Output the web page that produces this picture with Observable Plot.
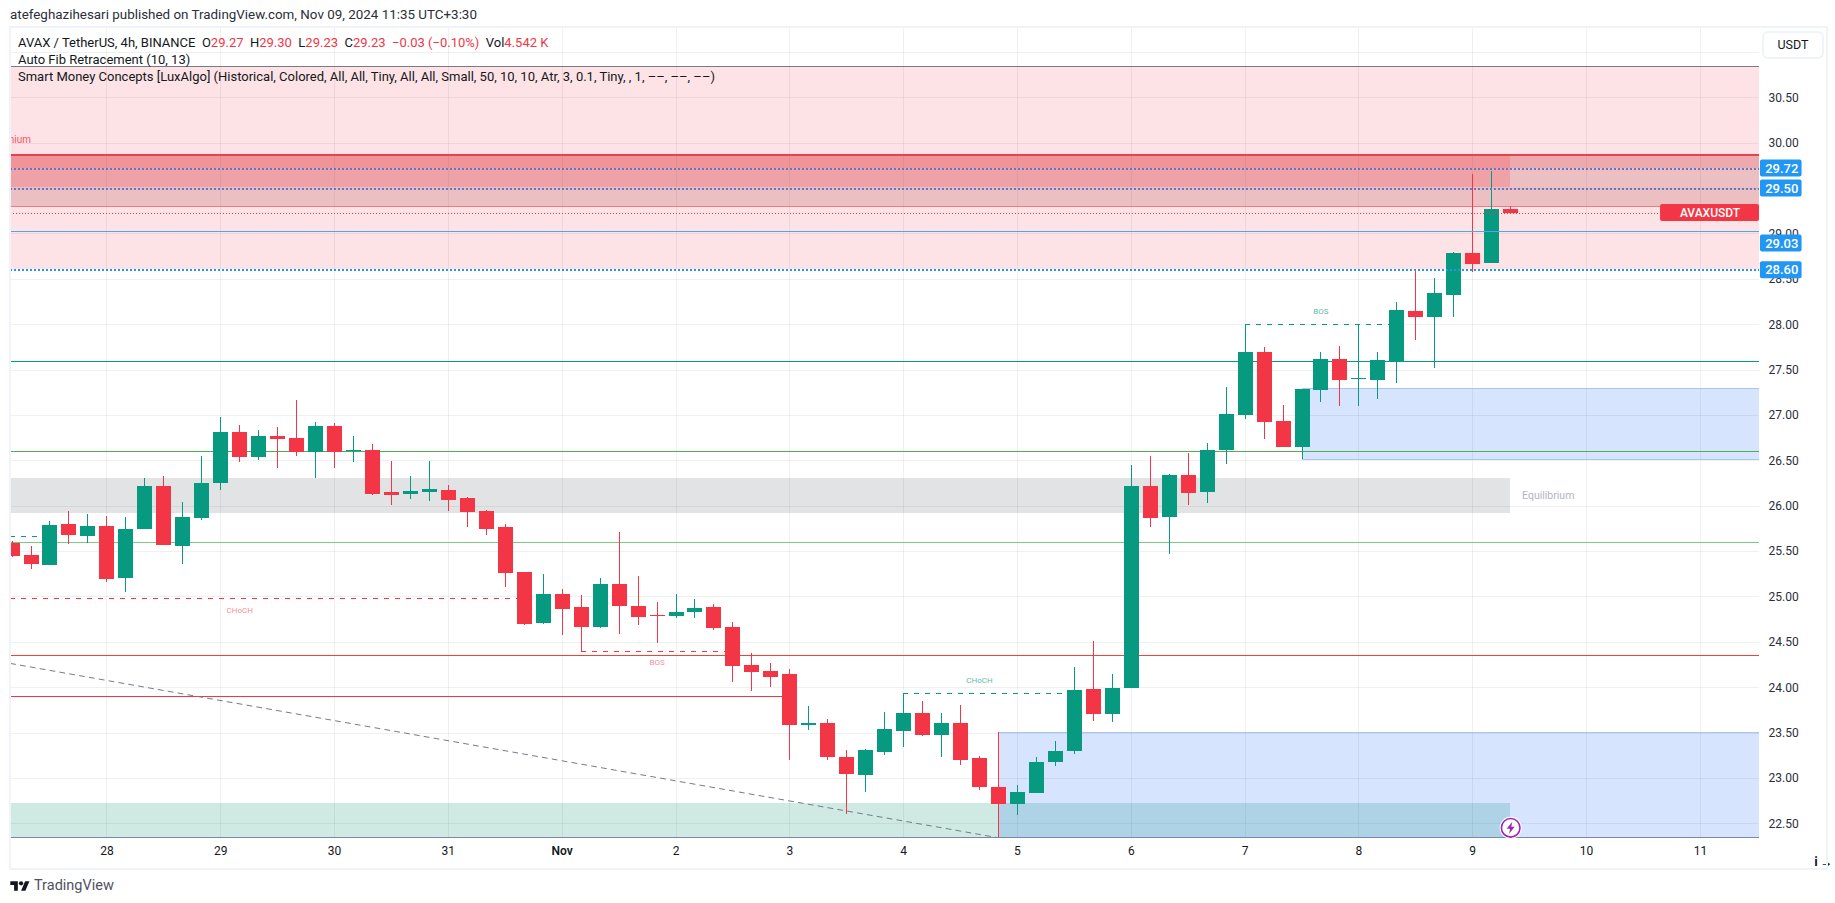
<!DOCTYPE html>
<html><head><meta charset="utf-8">
<style>
html,body{margin:0;padding:0;background:#fff;width:1835px;height:903px;overflow:hidden;font-family:Roboto,sans-serif;color:#131722}
#hdr{height:27px;position:relative}
#hdr span{position:absolute;left:10px;top:7px;font-size:13.4px;line-height:16px;color:#2a2e39;white-space:nowrap}
#frame{position:absolute;left:9px;top:26px;width:1815px;height:840px;border:2px solid #F0F3FA;pointer-events:none;z-index:3}
.lg{position:absolute;left:18px;font-size:13px;line-height:17px;white-space:nowrap;color:#131722;z-index:4}
.lg b{font-weight:400;color:#F23645}
#usdt{position:absolute;left:1762px;top:31px;width:58px;height:24px;border:2px solid #F0F3FA;border-radius:6px;font-size:12.5px;line-height:24px;text-align:center;z-index:4;background:#fff}
#logo{position:absolute;left:10px;top:878px;display:flex;align-items:center;gap:4px;font-size:14.5px;line-height:16px;color:#50535e}
#chart{position:relative}
</style>
<script src="https://cdn.jsdelivr.net/npm/d3@7"></script>
<script src="https://cdn.jsdelivr.net/npm/@observablehq/plot@0.6"></script>
</head><body>
<div id="hdr"><span>atefeghazihesari published on TradingView.com, Nov 09, 2024 11:35 UTC+3:30</span></div>
<div id="chart"></div>
<div id="frame"></div>
<div class="lg" style="top:34px">AVAX / TetherUS, 4h, BINANCE&nbsp; O<b>29.27</b>&nbsp; H<b>29.30</b>&nbsp; L<b>29.23</b>&nbsp; C<b>29.23</b>&nbsp; <b>−0.03 (−0.10%)</b>&nbsp; Vol<b>4.542 K</b></div>
<div class="lg" style="top:51px">Auto Fib Retracement (10, 13)</div>
<div class="lg" style="top:68px">Smart Money Concepts [LuxAlgo] (Historical, Colored, All, All, Tiny, All, All, Small, 50, 10, 10, Atr, 3, 0.1, Tiny, , 1, ––, ––, ––)</div>
<div id="usdt">USDT</div>
<div id="logo"><svg width="20" height="14" viewBox="0 0 36 26"><path fill="#131722" d="M14 22H7V11H0V4h14v18zM28 22h-8l7.5-18h8L28 22z"/><circle fill="#131722" cx="20" cy="8" r="4"/></svg><span>TradingView</span></div>
<script>
// ---- candle values (index 0 = 28 Oct 00:00, 6 bars a day) ----
const firstIndex = -5;
const opens  = [25.59,25.46,25.35,25.80,25.67,25.78,25.20,25.74,26.22,25.56,25.87,26.25,26.81,26.54,26.77,26.75,26.59,26.88,26.60,26.61,26.15,26.13,26.15,26.17,26.09,25.94,25.76,25.27,24.71,25.03,24.88,24.66,25.14,24.90,24.80,24.79,24.83,24.88,24.66,24.25,24.18,24.14,23.58,23.61,23.23,23.03,23.29,23.52,23.72,23.47,23.61,23.22,22.90,22.71,22.83,23.18,23.30,23.98,23.71,23.99,26.22,25.88,26.34,26.15,26.61,27.00,27.69,26.93,26.65,27.28,27.62,27.40,27.39,27.58,28.15,28.08,28.32,28.78,28.67,29.27];
const highs  = [25.61,25.56,25.83,25.94,25.91,25.89,25.88,26.30,26.33,26.04,26.55,26.98,26.89,26.83,26.87,27.17,26.92,26.91,26.77,26.68,26.49,26.33,26.49,26.23,26.10,25.95,25.80,25.27,25.25,25.08,25.02,25.20,25.71,25.22,24.94,25.03,24.97,24.92,24.72,24.38,24.27,24.20,23.79,23.65,23.31,23.32,23.73,23.94,23.85,23.72,23.80,23.24,23.51,22.92,23.23,23.41,24.22,24.51,24.14,26.45,26.55,26.35,26.58,26.69,27.31,28.00,27.75,27.11,27.29,27.69,27.76,28.00,27.69,28.25,28.60,28.51,28.80,29.66,29.69,29.30];
const lows   = [25.44,25.30,25.35,25.58,25.59,25.16,25.05,25.74,25.57,25.36,25.84,26.17,26.48,26.50,26.41,26.55,26.31,26.41,26.48,26.12,26.01,26.07,26.05,25.94,25.77,25.68,25.10,24.69,24.70,24.57,24.40,24.65,24.59,24.69,24.49,24.76,24.76,24.63,24.06,23.96,24.00,23.20,23.53,23.20,22.60,22.85,23.25,23.34,23.46,23.23,23.14,22.87,22.35,22.59,22.83,23.13,23.26,23.63,23.62,23.99,25.77,25.47,26.01,26.03,26.46,26.96,26.74,26.65,26.52,27.14,27.10,27.10,27.18,27.35,27.83,27.52,28.08,28.58,28.67,29.23];
const closes = [25.45,25.36,25.79,25.68,25.78,25.19,25.74,26.22,25.57,25.88,26.25,26.81,26.54,26.77,26.74,26.59,26.88,26.59,26.61,26.13,26.12,26.16,26.18,26.06,25.93,25.74,25.26,24.70,25.03,24.86,24.66,25.14,24.90,24.77,24.79,24.83,24.87,24.65,24.23,24.17,24.11,23.58,23.61,23.23,23.04,23.31,23.54,23.72,23.47,23.61,23.20,22.90,22.71,22.85,23.18,23.30,23.97,23.71,23.99,26.22,25.86,26.34,26.14,26.61,27.01,27.69,26.92,26.65,27.29,27.62,27.38,27.41,27.61,28.16,28.08,28.34,28.79,28.66,29.27,29.23];

// ---- axis values ----
const dayBars   = [0,6,12,18,24,30,36,42,48,54,60,66,72,78,84];
const dayLabels = ["28","29","30","31","Nov","2","3","4","5","6","7","8","9","10","11"];
const priceTicks = [22.5,23,23.5,24,24.5,25,25.5,26,26.5,27,27.5,28,28.5,29,29.5,30,30.5];
const gridPrices = [...priceTicks,31];

// ---- pane geometry, expressed in axis values ----
const xMin = -5.082, xMax = 87.116, yMin = 22.346, yMax = 31.264;
const lastBar = 74;           // last candle; zones that stop at price end here
const badgeEnd = 89.36;       // right end of the price badges (in the margin)

// ---- levels ----
const premiumTop = 30.845, premiumBottom = 28.605;
const supplyTop = 29.87, supplyBottom = 29.30, supplyInner = 29.51;
const fibA = 29.72, fibB = 29.50, fibC = 29.03, fibD = 28.60, lastPrice = 29.23;
const tealLevel = 27.60, greenLevel = 26.60, lightGreenLevel = 25.60, redLevel = 24.35;
const redShort = {p:23.90, to:36};
const eqTop = 26.305, eqBottom = 25.92;
const tealZoneTop = 22.724, paneFloor = 22.35;
const blueLow = {from:47, top:23.506, bottom:22.35};
const blueHigh = {from:63, top:27.294, bottom:26.519};
const trend = [{i:-5.08,p:24.267},{i:47,p:22.346}];
const dashed = [
  {from:-5.08,to:-3.4,p:25.67,c:"#089981"},
  {from:-5.08,to:22,p:24.98,c:"#F23645"},
  {from:25,to:33,p:24.395,c:"#F23645"},
  {from:42,to:51,p:23.936,c:"#089981"},
  {from:60,to:68,p:28.0,c:"#089981"}
];
const structLabels = [
  {t:"CHoCH",i:7,p:24.98,dy:12,c:"#F23645"},
  {t:"BOS",i:29,p:24.395,dy:11,c:"#F23645"},
  {t:"CHoCH",i:46,p:23.936,dy:-13,c:"#089981"},
  {t:"BOS",i:64,p:28.0,dy:-13,c:"#089981"}
];
const fmt = d3.format(".2f");
const pxPerUnit = 90.75;
const badgeHalf = 8.5/pxPerUnit;

const candles = opens.map((o,k)=>({i:firstIndex+k,o,h:highs[k],l:lows[k],c:closes[k]}));
const up = candles.filter(d=>d.c>=d.o), down = candles.filter(d=>d.c<d.o);
const UP="#089981", DOWN="#F23645";

const band=(i1,i2,p1,p2,fill,fillOpacity=1)=>Plot.rect([{i1,i2,p1,p2}],{x1:d=>d.i1,x2:d=>d.i2,y1:d=>d.p1,y2:d=>d.p2,fill,fillOpacity,clip:true,shapeRendering:"crispEdges"});
const level=(p,i1,i2,stroke,opts={})=>Plot.ruleY([{p,i1,i2}],{y:d=>d.p,x1:d=>d.i1,x2:d=>d.i2,stroke,strokeWidth:1,shapeRendering:"crispEdges",...opts});
const badge=(p,dy,label)=>[
  Plot.rect([{p}],{x1:()=>xMax+0.05,x2:()=>badgeEnd,y1:d=>d.p-badgeHalf,y2:d=>d.p+badgeHalf,dy,fill:"#2196F3",rx:2}),
  Plot.text([{p}],{x:()=>(xMax+badgeEnd)/2+0.05,y:d=>d.p,dy,text:()=>label,fill:"#fff",fontSize:13,fontWeight:500})
];

const plot = Plot.plot({
  width:1835,height:841,
  marginLeft:10,marginRight:76,marginTop:1,marginBottom:30.7,
  style:{fontFamily:"Roboto, sans-serif",background:"transparent",overflow:"visible"},
  x:{type:"linear",domain:[xMin,xMax],axis:null},
  y:{type:"linear",domain:[yMin,yMax],axis:null},
  marks:[
    // indicator zones
    band(xMin,xMax,premiumBottom,premiumTop,DOWN,0.14),
    band(xMin,xMax,supplyBottom,supplyTop,"#ECC0C3"),
    band(xMin,xMax,fibA,supplyTop,"#ECAAAF"),
    band(xMin,lastBar,supplyInner,fibA,"#EEA2A7"),
    band(xMin,lastBar,fibA,supplyTop,"#F09499"),
    band(xMin,lastBar,eqBottom,eqTop,"#E2E3E5"),
    band(xMin,lastBar,paneFloor,tealZoneTop,"#CEEAE3"),
    band(blueLow.from,xMax,blueLow.bottom,blueLow.top,"#3179F5",0.2),
    band(blueHigh.from,xMax,blueHigh.bottom,blueHigh.top,"#3179F5",0.2),
    // grid
    Plot.gridY(gridPrices,{stroke:"#2A2E39",strokeOpacity:0.07,strokeWidth:1,shapeRendering:"crispEdges"}),
    Plot.gridX(dayBars,{stroke:"#2A2E39",strokeOpacity:0.07,strokeWidth:1,shapeRendering:"crispEdges"}),
    // axes
    Plot.axisY(priceTicks,{anchor:"right",tickSize:0,tickPadding:9,tickFormat:fmt,fontSize:12,fill:"#2a2e39",textAnchor:"start"}),
    Plot.axisX(dayBars.filter(b=>b!==24),{anchor:"bottom",tickSize:0,tickPadding:9,tickFormat:b=>dayLabels[dayBars.indexOf(b)],fontSize:12,fill:"#131722"}),
    Plot.axisX([24],{anchor:"bottom",tickSize:0,tickPadding:9,tickFormat:b=>dayLabels[dayBars.indexOf(b)],fontSize:12,fontWeight:600,fill:"#131722"}),
    // zone edges and levels
    level(premiumTop,xMin,xMax,"#787B86"),
    level(supplyTop,xMin,xMax,"#E8404F",{strokeWidth:1.5}),
    level(supplyBottom,xMin,xMax,"#E57F85"),
    level(blueLow.top,blueLow.from,xMax,"#A9C5F6"),
    level(blueHigh.top,blueHigh.from,xMax,"#A9C5F6"),
    level(blueHigh.bottom,blueHigh.from,xMax,"#A9C5F6"),
    level(paneFloor,xMin,xMax,"#7C86A8"),
    level(tealLevel,xMin,xMax,UP),
    level(greenLevel,xMin,xMax,"#4CAF50"),
    level(lightGreenLevel,xMin,xMax,"#81C784"),
    level(redLevel,xMin,xMax,"#F44336"),
    level(redShort.p,xMin,redShort.to,"#F23645"),
    // dashed structure lines
    Plot.line(trend,{x:"i",y:"p",stroke:"#787B86",strokeWidth:1,strokeDasharray:"5 5",clip:true}),
    ...dashed.map(d=>level(d.p,d.from,d.to,d.c,{strokeDasharray:"5 6"})),
    Plot.text(structLabels.filter(d=>d.dy===12),{x:"i",y:"p",text:"t",dy:12,fill:DOWN,fillOpacity:.6,fontSize:8}),
    Plot.text(structLabels.filter(d=>d.dy===11),{x:"i",y:"p",text:"t",dy:11,fill:DOWN,fillOpacity:.6,fontSize:8}),
    Plot.text(structLabels.filter(d=>d.dy===-13),{x:"i",y:"p",text:"t",dy:-13,fill:UP,fillOpacity:.7,fontSize:8}),
    Plot.text([{t:"Premium",i:-4,p:30.04}],{x:"i",y:"p",text:"t",textAnchor:"end",fill:DOWN,fillOpacity:.85,fontSize:10,clip:true}),
    Plot.text([{t:"Equilibrium",i:74.6,p:(eqTop+eqBottom)/2}],{x:"i",y:"p",text:"t",textAnchor:"start",fill:"#B2B5BE",fontSize:10.5}),
    // candles
    Plot.ruleX(up,{x:"i",y1:"l",y2:"h",stroke:UP,strokeWidth:1,clip:true,shapeRendering:"crispEdges"}),
    Plot.ruleX(down,{x:"i",y1:"l",y2:"h",stroke:DOWN,strokeWidth:1,clip:true,shapeRendering:"crispEdges"}),
    Plot.ruleX(up,{x:"i",y1:"o",y2:"c",stroke:UP,strokeWidth:15,clip:true,shapeRendering:"crispEdges"}),
    Plot.ruleX(down,{x:"i",y1:"o",y2:"c",stroke:DOWN,strokeWidth:15,clip:true,shapeRendering:"crispEdges"}),
    // price lines over the candles
    level(fibA,xMin,xMax,"#5F78C8",{strokeWidth:2,strokeDasharray:"2 2"}),
    level(fibB,xMin,xMax,"#5F78C8",{strokeWidth:2,strokeDasharray:"2 2"}),
    level(fibC,xMin,xMax,"#4FA6F0"),
    level(fibD,xMin,xMax,"#2196F3",{strokeWidth:2,strokeDasharray:"2 2"}),
    level(lastPrice,xMin,81.9,DOWN,{strokeDasharray:"1 2"}),
    // real-time icon
    Plot.dot([{i:lastBar,p:22.456}],{x:"i",y:"p",r:11,fill:"#fff"}),
    Plot.dot([{i:lastBar,p:22.456}],{x:"i",y:"p",r:9.3,stroke:"#9C27B0",strokeWidth:1.6,fill:"#fff"}),
    Plot.dot([{i:lastBar,p:22.456}],{x:"i",y:"p",fill:"#9C27B0",symbol:{draw(c){c.moveTo(1.6,-6);c.lineTo(-4,1);c.lineTo(-0.6,1);c.lineTo(-1.6,6);c.lineTo(4,-1);c.lineTo(0.6,-1);c.closePath();}}}),
    // price badges
    Plot.rect([{p:lastPrice}],{x1:()=>81.9,x2:()=>xMax,y1:d=>d.p-badgeHalf,y2:d=>d.p+badgeHalf,fill:DOWN,rx:2}),
    Plot.text([{p:lastPrice,t:"AVAXUSDT"}],{x:()=>(81.9+xMax)/2,y:"p",text:"t",fill:"#fff",fontSize:12,fontWeight:500,letterSpacing:"-0.4px"}),
    ...badge(fibA,0,fmt(fibA)),
    ...badge(fibB,0,fmt(fibB)),
    ...badge(fibC,12.3,fmt(fibC)),
    ...badge(fibD,0,fmt(fibD))
  ]
});
document.getElementById("chart").append(plot);
</script>
</body></html>
